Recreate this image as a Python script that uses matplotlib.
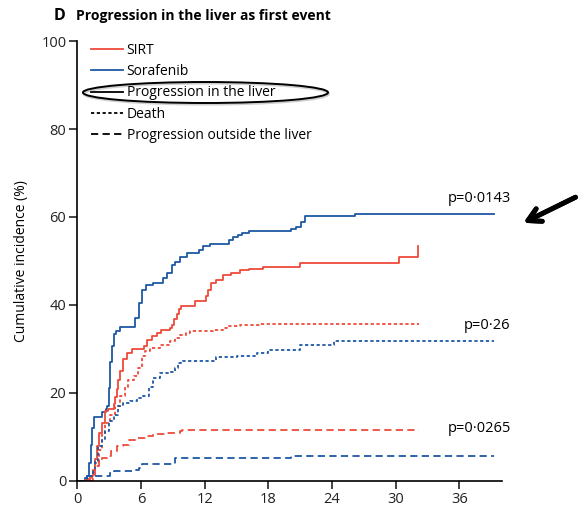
"""Cumulative incidence of progression in the liver as first event (panel D)."""

import numpy as np
import matplotlib.pyplot as plt
from matplotlib.lines import Line2D
from matplotlib.patches import Ellipse

plt.rcParams['font.family'] = ['Open Sans', 'DejaVu Sans']

RED = '#EE4B3A'
BLUE = '#1E58A5'

# Step curves: (months, cumulative incidence %)
sirt_liver_t = [0, 0.7, 1.2, 1.5, 1.65, 1.8, 2.05, 2.3, 2.6, 2.9, 3.4, 3.55, 3.7,
                3.85, 4.0, 4.3, 4.65, 5.1, 6.3, 6.6, 7.0, 7.5, 7.9, 8.7, 8.9, 9.1,
                9.35, 9.6, 9.8, 11.1, 12.1, 12.3, 12.6, 13.1, 13.75, 14.5, 15.3,
                16.2, 17.5, 21.0, 30.3, 32.1]
sirt_liver_v = [0, 0.2, 1.0, 2.5, 5.0, 7.8, 10.8, 13.1, 15.8, 16.2, 17.4, 19.0, 20.8,
                23.0, 24.9, 27.6, 29.1, 29.9, 30.6, 32.0, 33.0, 33.6, 34.2, 34.8, 35.5,
                36.8, 37.8, 39.0, 39.8, 40.8, 41.9, 43.4, 44.9, 45.7, 46.8, 47.2, 47.9,
                48.2, 48.6, 49.6, 50.8, 53.3]

sor_liver_t = [0, 0.7, 0.9, 1.1, 1.25, 1.4, 1.55, 2.3, 2.7, 2.8, 2.95, 3.1, 3.25,
               3.4, 3.6, 4.0, 5.4, 5.8, 6.1, 6.45, 7.15, 8.1, 8.4, 8.9, 9.2, 9.65,
               10.3, 11.5, 11.8, 12.5, 14.3, 14.65, 15.1, 15.5, 16.2, 20.1, 20.6,
               21.1, 21.5, 26.2, 39.3]
sor_liver_v = [0, 0.6, 1.0, 4.0, 8.0, 12.0, 14.4, 15.5, 16.3, 17.0, 21.0, 27.0, 30.7,
               33.4, 34.1, 35.0, 37.0, 40.4, 43.4, 44.4, 44.9, 46.1, 47.2, 49.1, 49.8,
               50.8, 51.7, 52.5, 53.3, 53.8, 54.8, 55.4, 55.9, 56.4, 56.9, 57.2, 57.8,
               58.9, 60.1, 60.7, 60.7]

sirt_death_t = [0, 0.8, 1.35, 1.7, 2.0, 2.3, 2.6, 3.05, 3.5, 4.0, 4.5, 4.8, 5.3, 5.75,
                6.05, 6.4, 6.8, 7.8, 8.7, 9.2, 9.7, 10.2, 10.6, 12.8, 13.75, 14.1,
                15.3, 17.2, 32.2]
sirt_death_v = [0, 0.3, 1.7, 4.0, 7.0, 10.8, 13.1, 15.0, 16.9, 19.2, 21.4, 23.0, 23.7,
                25.6, 28.3, 29.4, 30.2, 30.9, 31.7, 32.5, 33.2, 33.6, 34.1, 34.3, 34.7,
                35.2, 35.5, 35.7, 35.7]

sor_death_t = [0, 0.9, 1.5, 1.65, 1.98, 2.3, 2.6, 3.0, 3.4, 3.85, 4.3, 4.95, 5.6, 6.2,
               6.7, 7.15, 7.8, 8.6, 9.2, 9.5, 9.8, 13.1, 15.0, 16.9, 18.0, 21.0, 24.2,
               39.3]
sor_death_v = [0, 1.0, 2.5, 4.4, 7.8, 9.3, 11.2, 13.5, 15.0, 16.9, 17.7, 18.2, 18.8,
               19.2, 21.4, 23.3, 24.5, 24.8, 25.6, 26.7, 27.1, 28.1, 28.3, 29.1, 29.6,
               30.9, 31.7, 31.7]

sirt_out_t = [0, 1.5, 1.65, 2.0, 2.3, 2.8, 3.2, 3.7, 4.3, 4.85, 5.4, 6.5, 7.15, 8.3,
              9.7, 9.85, 32.2]
sirt_out_v = [0, 1.0, 3.3, 4.4, 5.2, 5.7, 6.7, 7.8, 8.2, 9.3, 9.7, 10.2, 10.5, 10.8,
              11.2, 11.5, 11.5]

sor_out_t = [0, 0.7, 0.9, 3.1, 3.4, 5.4, 5.8, 6.1, 9.2, 20.1, 39.3]
sor_out_v = [0, 0.6, 1.0, 1.7, 2.1, 2.5, 2.9, 3.7, 5.2, 5.7, 5.7]

p_labels = ['p=0·0143', 'p=0·26', 'p=0·0265']
p_y = [64.3, 35.4, 11.9]

legend_labels = ['SIRT', 'Sorafenib', 'Progression in the liver', 'Death',
                 'Progression outside the liver']

x_ticks = [0, 6, 12, 18, 24, 30, 36]
y_ticks = [0, 20, 40, 60, 80, 100]

DOT = (0, (1.8, 1.4))
DASH = (0, (4.0, 2.4))

fig = plt.figure(figsize=(5.78, 5.08), dpi=100)
ax = fig.add_axes([0.134, 0.054, 0.734, 0.865])

lw = 1.3
ax.step(sor_liver_t, sor_liver_v, where='post', color=BLUE, lw=lw)
ax.step(sirt_liver_t, sirt_liver_v, where='post', color=RED, lw=lw)
ax.step(sirt_death_t, sirt_death_v, where='post', color=RED, lw=lw, ls=DOT)
ax.step(sor_death_t, sor_death_v, where='post', color=BLUE, lw=lw, ls=DOT)
ax.step(sirt_out_t, sirt_out_v, where='post', color=RED, lw=lw, ls=DASH)
ax.step(sor_out_t, sor_out_v, where='post', color=BLUE, lw=lw, ls=DASH)

ax.set_xlim(0, 40)
ax.set_ylim(0, 100)
ax.set_xticks(x_ticks)
ax.set_yticks(y_ticks)
ax.spines[['top', 'right']].set_visible(False)
for s in ['left', 'bottom']:
    ax.spines[s].set_linewidth(1.2)
ax.tick_params(axis='both', direction='out', length=6, width=1.2, labelsize=10.5,
               pad=2, colors='#222222')
ax.set_ylabel('Cumulative incidence (%)', fontsize=10, labelpad=9)

for lab, yv in zip(p_labels, p_y):
    ax.text(40.85, yv, lab, ha='right', va='center', fontsize=10.5, clip_on=False)

# Legend: colours for arms, line styles for event types
handles = [Line2D([], [], color=RED, lw=lw),
           Line2D([], [], color=BLUE, lw=lw),
           Line2D([], [], color='black', lw=lw),
           Line2D([], [], color='black', lw=lw, ls=DOT),
           Line2D([], [], color='black', lw=lw, ls=DASH)]
fig.legend(handles, legend_labels, loc='upper left',
           bbox_to_anchor=(0.158, 0.915), frameon=False, fontsize=10,
           handlelength=2.3, handletextpad=0.25, labelspacing=0.44,
           borderpad=0, borderaxespad=0)

# Highlight ring around the "Progression in the liver" legend entry
shadow = Ellipse((0.3570, 0.8150), 0.424, 0.0413, transform=fig.transFigure,
                 fill=False, ec='#D0D0D0', lw=1.6)
ring = Ellipse((0.3555, 0.8179), 0.424, 0.0413, transform=fig.transFigure,
               fill=False, ec='black', lw=1.4)
fig.add_artist(shadow)
fig.add_artist(ring)

# Arrow pointing at the liver progression p-value
fig.add_artist(plt.annotate(
    '', xy=(521 / 578, 1 - 224 / 508), xycoords='figure fraction',
    xytext=(578 / 578, 1 - 196 / 508), textcoords='figure fraction',
    arrowprops=dict(arrowstyle='->,head_length=0.9,head_width=0.5',
                    color='black', lw=3.5)))

fig.text(0.092, 0.968, 'D', fontsize=11.5, fontweight='bold', va='center')
fig.text(0.131, 0.968, 'Progression in the liver as first event', fontsize=10,
         fontweight='bold', va='center')

fig.savefig('out.png', dpi=100)
